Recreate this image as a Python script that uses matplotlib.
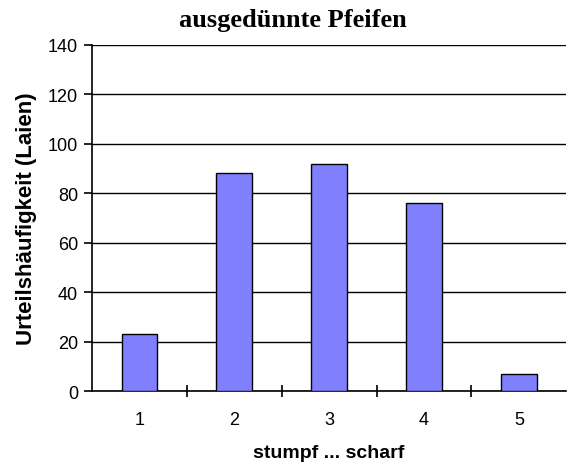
import matplotlib.pyplot as plt
import numpy as np

categories = ['1', '2', '3', '4', '5']
counts = [23, 88, 92, 76, 7]
yticks = [0, 20, 40, 60, 80, 100, 120, 140]

fig = plt.figure(figsize=(5.72, 4.77), dpi=100)
ax = fig.add_axes([0.161, 0.178, 0.829, 0.726])

x = np.arange(len(categories))
ax.bar(x, counts, width=0.377, color='#8080ff', edgecolor='black', linewidth=1.0, zorder=3)

ax.set_xlim(-0.5, len(categories) - 0.5)
ax.set_ylim(0, 140)
ax.set_yticks(yticks)
ax.set_xticks(x)
ax.set_xticklabels(categories)
ax.set_xticks(np.arange(0.5, len(categories) - 0.5, 1), minor=True)
ax.yaxis.grid(True, color='black', linewidth=1.0, zorder=0)

for s in ['top', 'right']:
    ax.spines[s].set_visible(False)
for s in ['left', 'bottom']:
    ax.spines[s].set_linewidth(1.2)

ax.tick_params(axis='x', which='major', length=0, pad=14, labelsize=13)
ax.tick_params(axis='x', which='minor', length=9, direction='inout', width=1.2)
ax.tick_params(axis='y', length=6, width=1.2, labelsize=13, pad=4)
for lab in ax.get_xticklabels() + ax.get_yticklabels():
    lab.set_family('Liberation Sans')

fig.text(0.512, 0.958, 'ausgedünnte Pfeifen', family='Liberation Serif', fontweight='bold',
         fontsize=19, ha='center', va='center')
ax.set_xlabel('stumpf ... scharf', family='Liberation Sans', fontweight='bold', fontsize=14, labelpad=12)
ax.set_ylabel('Urteilshäufigkeit (Laien)', family='Liberation Sans', fontweight='bold', fontsize=16, labelpad=8)

fig.savefig('out.png', dpi=100)
